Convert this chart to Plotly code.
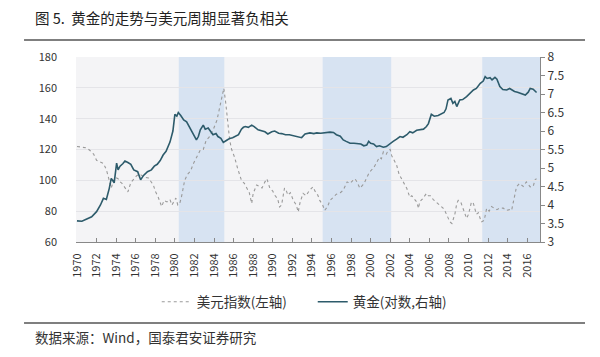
import plotly.graph_objects as go

# ---- data ----
usd_t = [1970.0, 1970.5, 1971.0, 1971.3, 1971.7, 1972.0, 1972.3, 1972.7, 1973.0, 1973.3, 1973.5, 1973.7, 1973.9,
         1974.2, 1974.4, 1974.6, 1974.9, 1975.2, 1975.5, 1975.8, 1976.1, 1976.4, 1976.6, 1976.9, 1977.3, 1977.6,
         1977.8, 1978.0, 1978.3, 1978.65, 1978.9, 1979.2, 1979.5, 1979.7, 1980.1, 1980.3, 1980.5, 1980.7, 1981.0,
         1981.3, 1981.6, 1981.9, 1982.3, 1982.6, 1982.9, 1983.2, 1983.5, 1983.9, 1984.3, 1984.6, 1984.8, 1985.0,
         1985.2, 1985.35, 1985.6, 1985.8, 1986.1, 1986.4, 1986.8, 1987.1, 1987.3, 1987.6, 1987.85, 1988.0, 1988.35,
         1988.6, 1988.9, 1989.2, 1989.4, 1989.7, 1990.0, 1990.2, 1990.5, 1990.7, 1990.9, 1991.2, 1991.4, 1991.55,
         1991.8, 1992.1, 1992.4, 1992.6, 1992.8, 1993.1, 1993.4, 1993.7, 1994.1, 1994.4, 1994.6, 1994.8, 1995.1,
         1995.3, 1995.6, 1995.85, 1996.2, 1996.5, 1996.9, 1997.2, 1997.6, 1997.9, 1998.2, 1998.4, 1998.6, 1998.9,
         1999.2, 1999.4, 1999.7, 1999.9, 2000.3, 2000.6, 2000.9, 2001.1, 2001.3, 2001.6, 2001.8, 2002.0, 2002.15,
         2002.4, 2002.65, 2002.9, 2003.2, 2003.5, 2003.7, 2004.0, 2004.2, 2004.4, 2004.7, 2004.9, 2005.0, 2005.3,
         2005.7, 2005.9, 2006.1, 2006.4, 2006.7, 2007.1, 2007.4, 2007.6, 2007.9, 2008.1, 2008.3, 2008.6, 2008.8,
         2008.95, 2009.2, 2009.5, 2009.8, 2010.0, 2010.3, 2010.5, 2010.8, 2011.0, 2011.3, 2011.6, 2011.85, 2012.1,
         2012.35, 2012.6, 2012.9, 2013.2, 2013.55, 2013.8, 2014.2, 2014.4, 2014.55, 2014.75, 2014.9, 2015.2,
         2015.4, 2015.6, 2015.9, 2016.1, 2016.3, 2016.6, 2016.8, 2016.95]
usd_v = [122, 121.5, 121, 119.5, 117, 113, 112, 111, 107, 100, 95, 99, 102,
         101, 99, 98, 95.5, 92.5, 98.5, 101, 103, 104, 103, 102, 101.5, 99,
         97, 93, 89, 83, 87, 86, 87.5, 84, 88.5, 84, 85, 90, 100,
         104, 106, 111, 116, 119.6, 120, 126, 128, 132.6, 139, 147.7, 152, 159.7,
         150, 141, 126, 120, 115, 108, 100, 98, 95.8, 92, 85, 91.5, 97,
         96, 95, 99, 101, 95, 93, 90.4, 88, 82.8, 84, 95, 93, 90.4,
         92, 87, 84, 79.5, 86, 91.5, 90, 93, 95.8, 92, 90.4, 87, 84,
         80.5, 83, 87, 89, 91, 92, 93.6, 99, 98, 100, 101, 99, 94.9,
         97, 99, 103, 105.5, 108, 112, 115, 114, 118.5, 117, 119.6, 120, 116,
         113, 110, 104, 100, 97, 94.7, 89, 90, 88.3, 86, 81.8, 86, 88,
         91.5, 90, 90, 87.5, 86, 83.5, 82, 80, 76, 73, 72, 78, 85,
         87, 86, 80, 75.3, 78, 86, 85, 78, 79, 73, 74, 81.8, 80,
         83, 82, 81, 82, 82, 80.5, 81, 80.5, 84.5, 90, 95.8, 98,
         97, 96, 99, 97, 95.8, 96, 100.5, 101]

gold_t = [1970.0, 1970.5, 1971.0, 1971.5, 1972.0, 1972.4, 1972.7, 1973.0, 1973.3, 1973.5, 1973.8, 1974.05, 1974.2,
          1974.4, 1974.7, 1974.9, 1975.2, 1975.5, 1975.8, 1976.2, 1976.5, 1976.8, 1977.2, 1977.6, 1977.9, 1978.2,
          1978.5, 1978.8, 1979.1, 1979.5, 1979.8, 1980.0, 1980.2, 1980.35, 1980.6, 1980.9, 1981.2, 1981.5, 1981.7,
          1982.0, 1982.2, 1982.4, 1982.6, 1982.9, 1983.1, 1983.4, 1983.7, 1983.9, 1984.2, 1984.4, 1984.7, 1984.95,
          1985.3, 1985.6, 1985.9, 1986.2, 1986.5, 1986.8, 1987.0, 1987.2, 1987.5, 1987.85, 1988.1, 1988.5, 1988.8,
          1989.2, 1989.5, 1989.9, 1990.2, 1990.6, 1990.9, 1991.3, 1991.7, 1992.0, 1992.3, 1992.6, 1992.95, 1993.3,
          1993.5, 1993.8, 1994.2, 1994.5, 1994.9, 1995.3, 1995.85, 1996.2, 1996.5, 1996.9, 1997.2, 1997.5, 1997.9,
          1998.3, 1998.7, 1999.0, 1999.3, 1999.6, 1999.8, 2000.0, 2000.3, 2000.6, 2000.9, 2001.3, 2001.6, 2002.0,
          2002.3, 2002.65, 2003.0, 2003.3, 2003.7, 2004.0, 2004.3, 2004.7, 2005.0, 2005.4, 2005.7, 2005.9, 2006.2,
          2006.5, 2006.9, 2007.2, 2007.5, 2007.7, 2007.9, 2008.2, 2008.4, 2008.6, 2008.8, 2009.1, 2009.4, 2009.8,
          2010.1, 2010.5, 2010.8, 2011.2, 2011.5, 2011.7, 2011.9, 2012.2, 2012.4, 2012.7, 2012.9, 2013.2, 2013.5,
          2013.9, 2014.2, 2014.5, 2014.7, 2015.0, 2015.3, 2015.6, 2015.8, 2016.1, 2016.3, 2016.6, 2016.8, 2016.95]
gold_v = [3.57, 3.56, 3.62, 3.68, 3.82, 4.0, 4.18, 4.15, 4.45, 4.72, 4.6, 5.13, 4.95,
          5.05, 5.12, 5.19, 5.15, 5.1, 4.95, 4.9, 4.68, 4.8, 4.9, 4.95, 5.05, 5.1,
          5.2, 5.35, 5.45, 5.7, 6.0, 6.45, 6.4, 6.5, 6.42, 6.3, 6.25, 6.1, 6.03,
          5.85, 5.76, 5.85, 6.03, 6.16, 6.05, 6.08, 5.95, 5.9, 5.93, 5.85, 5.8, 5.69,
          5.75, 5.8, 5.82, 5.85, 5.9, 6.05, 6.1, 6.12, 6.1, 6.16, 6.12, 6.03, 6.0,
          5.98, 5.92, 5.98, 6.0, 5.94, 5.93, 5.9, 5.9, 5.88, 5.86, 5.84, 5.82, 5.92,
          5.94, 5.95, 5.93, 5.95, 5.94, 5.96, 5.97, 5.96, 5.9, 5.86, 5.76, 5.72, 5.67,
          5.67, 5.65, 5.65, 5.6, 5.62, 5.72, 5.67, 5.65, 5.58, 5.6, 5.56, 5.58, 5.67,
          5.72, 5.78, 5.85, 5.83, 5.9, 5.98, 5.95, 6.02, 6.03, 6.05, 6.12, 6.2, 6.45,
          6.4, 6.42, 6.45, 6.5, 6.6, 6.84, 6.88, 6.75, 6.8, 6.66, 6.84, 6.85, 6.93,
          7.0, 7.11, 7.15, 7.29, 7.35, 7.47, 7.42, 7.44, 7.38, 7.45, 7.4, 7.2, 7.12,
          7.11, 7.15, 7.1, 7.07, 7.05, 7.02, 6.98, 6.97, 7.05, 7.15, 7.13, 7.06, 7.04]

shade_start = [1980.4, 1995.1, 2011.4]
shade_end = [1985.05, 2002.1, 2017.3]

x_ticks = list(range(1970, 2017, 2))
x_labels = [str(y) for y in x_ticks]

title_text = "图 5.  黄金的走势与美元周期显著负相关"
source_text = "数据来源：Wind，国泰君安证券研究"
usd_name = "美元指数(左轴)"
gold_name = "黄金(对数,右轴)"

FONT = "Noto Sans CJK SC, Microsoft YaHei, sans-serif"

fig = go.Figure()
fig.add_trace(go.Scatter(x=usd_t, y=usd_v, name=usd_name, mode="lines",
                         line=dict(color="#9a9a9a", width=1.1, dash="dot"), yaxis="y"))
fig.add_trace(go.Scatter(x=gold_t, y=gold_v, name=gold_name, mode="lines",
                         line=dict(color="#2d5b6b", width=1.6), yaxis="y2"))

shapes = []
for s, e in zip(shade_start, shade_end):
    shapes.append(dict(type="rect", xref="x", yref="paper", x0=s, x1=e, y0=0, y1=1,
                       fillcolor="#d7e3f2", line=dict(width=0), layer="below"))
# title rule and bottom rule
shapes.append(dict(type="line", xref="paper", yref="paper", x0=-0.112, x1=1.097, y0=1.092, y1=1.092,
                   line=dict(color="#555555", width=1.5)))
shapes.append(dict(type="line", xref="paper", yref="paper", x0=-0.112, x1=1.097, y0=-0.438, y1=-0.438,
                   line=dict(color="#555555", width=1.5)))

fig.update_layout(
    width=600, height=357,
    margin=dict(l=76, r=60, t=57, b=115),
    paper_bgcolor="white",
    plot_bgcolor="#f4f4f6",
    font=dict(family=FONT, color="#333333", size=11),
    showlegend=True,
    legend=dict(orientation="h", x=0.174, xanchor="left", y=-0.324, yanchor="middle",
                font=dict(size=13.5, color="#333333"), entrywidth=111, entrywidthmode="pixels",
                bgcolor="rgba(0,0,0,0)"),
    xaxis=dict(range=[1969.9, 2017.3], tickmode="array", tickvals=x_ticks, ticktext=x_labels,
               tickangle=-90, ticks="inside", ticklen=4, tickcolor="#888888", ticklabelstandoff=6,
               showline=True, linecolor="#888888", linewidth=1, showgrid=False, zeroline=False,
               tickfont=dict(size=11, color="#333333")),
    yaxis=dict(range=[60, 180], dtick=20, showgrid=True, gridcolor="#e4e4e8", gridwidth=1,
               zeroline=False, showline=False, ticks="", ticklabelstandoff=18,
               tickfont=dict(size=11, color="#333333")),
    yaxis2=dict(range=[3, 8], dtick=0.5, overlaying="y", side="right", showgrid=False,
                zeroline=False, showline=True, linecolor="#888888", ticks="outside", ticklen=4,
                tickcolor="#888888", tickfont=dict(size=12, color="#333333")),
    shapes=shapes,
    annotations=[
        dict(text=title_text, xref="paper", yref="paper", x=-0.093, y=1.216, xanchor="left",
             yanchor="middle", showarrow=False, font=dict(size=14.5, color="#222222")),
        dict(text=source_text, xref="paper", yref="paper", x=-0.093, y=-0.514, xanchor="left",
             yanchor="middle", showarrow=False, font=dict(size=13.5, color="#333333")),
    ],
)

fig.write_html("out.html", config={"displayModeBar": False},
               post_script="document.body.style.margin='0px';")
